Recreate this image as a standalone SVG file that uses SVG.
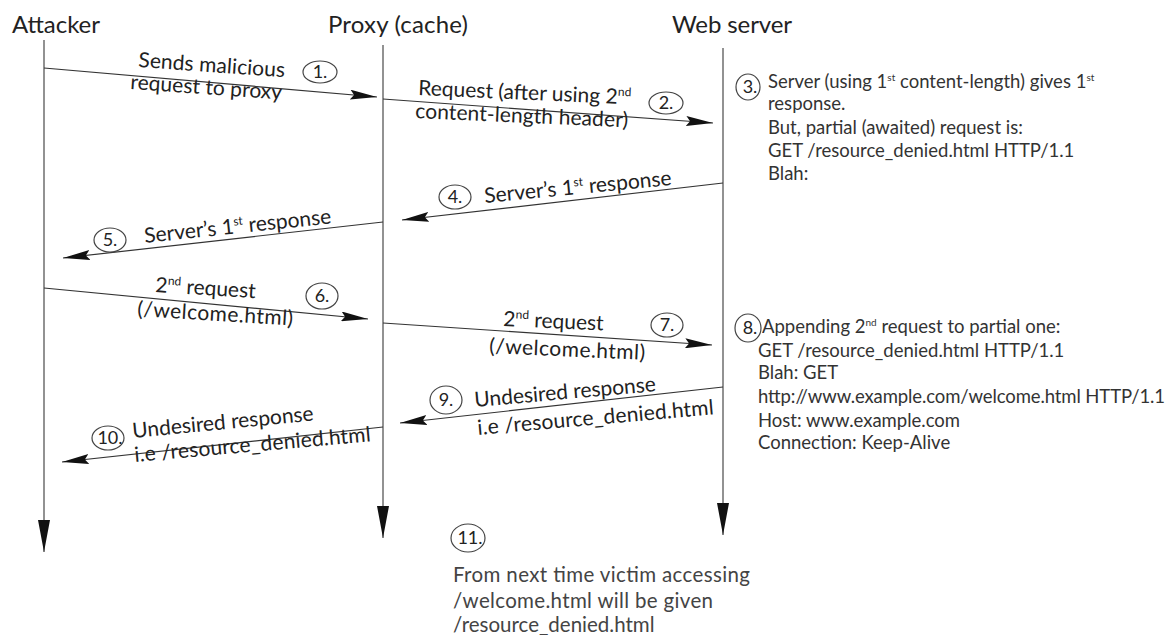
<svg xmlns="http://www.w3.org/2000/svg" width="1171" height="635" viewBox="0 0 1171 635">
  <style>
    .hdr { font-family: Lato, "Open Sans", "Liberation Sans", sans-serif; font-size: 24px; fill: #222; }
    .lbl { font-family: Lato, "Open Sans", "Liberation Sans", sans-serif; font-size: 21px; fill: #222; }
    .note { font-family: Lato, "Open Sans", "Liberation Sans", sans-serif; font-size: 18.5px; fill: #333; }
    .big { font-size: 20.5px; fill: #444; }
    .num { font-family: Lato, "Open Sans", "Liberation Sans", sans-serif; font-size: 18px; fill: #222; text-anchor: middle; }
    .life { stroke: #777; stroke-width: 1.6; fill: none; }
    .msg { stroke: #333; stroke-width: 1.2; fill: none; marker-end: url(#head); }
    .step { stroke: #444; stroke-width: 1.2; fill: none; }
  </style>
  <defs>
    <marker id="head" markerUnits="userSpaceOnUse" markerWidth="27" markerHeight="10" refX="27" refY="5" orient="auto">
      <path d="M0,0 L27,5 L0,10 L4,5 Z" fill="#111"/>
    </marker>
    <marker id="down" markerUnits="userSpaceOnUse" markerWidth="32" markerHeight="12" refX="32" refY="6" orient="auto">
      <path d="M0,0 L32,6 L0,12 Z" fill="#111"/>
    </marker>
  </defs>
  <rect width="1171" height="635" fill="#fff"/>

  <!-- participants with their lifelines -->
  <g id="attacker">
    <text class="hdr" x="12" y="33" textLength="88">Attacker</text>
    <line class="life" x1="44" y1="40" x2="44" y2="552" marker-end="url(#down)"/>
  </g>
  <g id="proxy">
    <text class="hdr" x="328" y="33" textLength="140">Proxy (cache)</text>
    <line class="life" x1="383" y1="45" x2="383" y2="538" marker-end="url(#down)"/>
  </g>
  <g id="webserver">
    <text class="hdr" x="672" y="33" textLength="120">Web server</text>
    <line class="life" x1="723" y1="48" x2="723" y2="535" marker-end="url(#down)"/>
  </g>

  <!-- messages -->
  <g id="connectors">
    <line class="msg" x1="44" y1="68" x2="377" y2="97"/>
    <line class="msg" x1="383" y1="99" x2="713" y2="123"/>
    <line class="msg" x1="723" y1="183" x2="402" y2="220"/>
    <line class="msg" x1="383" y1="222" x2="63" y2="258"/>
    <line class="msg" x1="44" y1="288" x2="368" y2="319"/>
    <line class="msg" x1="383" y1="323" x2="712" y2="345"/>
    <line class="msg" x1="723" y1="387" x2="400" y2="423"/>
    <line class="msg" x1="383" y1="427" x2="62" y2="462"/>
  </g>

  <!-- message labels -->
  <g id="step1">
    <text class="lbl" x="138" y="67" transform="rotate(4 138 67)" textLength="147">Sends malicious</text>
    <text class="lbl" x="130" y="89" transform="rotate(4 130 89)" textLength="152">request to proxy</text>
    <ellipse class="step" cx="320" cy="72" rx="17" ry="11"/>
    <text class="num" x="320" y="78">1.</text>
  </g>
  <g id="step2">
    <text class="lbl" x="418" y="95" transform="rotate(2.5 418 95)">Request (after using 2<tspan font-size="12" dy="-8">nd</tspan></text>
    <text class="lbl" x="415" y="118" transform="rotate(2.5 415 118)" textLength="213">content-length header)</text>
    <ellipse class="step" cx="666" cy="103" rx="17" ry="11"/>
    <text class="num" x="666" y="109">2.</text>
  </g>
  <g id="step3">
    <ellipse class="step" cx="748" cy="87" rx="12" ry="13"/>
    <text class="num" x="750" y="93">3.</text>
    <text class="note" x="768" y="88">Server (using 1<tspan font-size="10" dy="-7">st</tspan><tspan dy="7"> content-length) gives 1</tspan><tspan font-size="10" dy="-7">st</tspan></text>
    <text class="note" x="768" y="110">response.</text>
    <text class="note" x="768" y="134">But, partial (awaited) request is:</text>
    <text class="note" x="768" y="157">GET /resource_denied.html HTTP/1.1</text>
    <text class="note" x="768" y="180">Blah:</text>
  </g>
  <g id="step4">
    <ellipse class="step" cx="455" cy="197" rx="16" ry="12"/>
    <text class="num" x="455" y="203">4.</text>
    <text class="lbl" x="485" y="203" transform="rotate(-5.5 485 203)">Server’s 1<tspan font-size="12" dy="-8">st</tspan><tspan dy="8">  response</tspan></text>
  </g>
  <g id="step5">
    <ellipse class="step" cx="110" cy="240" rx="16" ry="12"/>
    <text class="num" x="110" y="246">5.</text>
    <text class="lbl" x="145" y="243" transform="rotate(-6 145 243)">Server’s 1<tspan font-size="12" dy="-8">st</tspan><tspan dy="8">  response</tspan></text>
  </g>
  <g id="step6">
    <text class="lbl" x="155" y="292" transform="rotate(3.5 155 292)">2<tspan font-size="12" dy="-8">nd</tspan><tspan dy="8"> request</tspan></text>
    <text class="lbl" x="137" y="316" transform="rotate(3.5 137 316)" textLength="156">(/welcome.html)</text>
    <ellipse class="step" cx="322" cy="296" rx="16" ry="13"/>
    <text class="num" x="322" y="302">6.</text>
  </g>
  <g id="step7">
    <text class="lbl" x="503" y="326" transform="rotate(2.5 503 326)">2<tspan font-size="12" dy="-8">nd</tspan><tspan dy="8"> request</tspan></text>
    <text class="lbl" x="489" y="353" transform="rotate(2.5 489 353)" textLength="156">(/welcome.html)</text>
    <ellipse class="step" cx="667" cy="325" rx="16" ry="12"/>
    <text class="num" x="667" y="331">7.</text>
  </g>
  <g id="step8">
    <ellipse class="step" cx="748" cy="328" rx="13" ry="14"/>
    <text class="num" x="750" y="334">8.</text>
    <text class="note" x="762" y="333">Appending 2<tspan font-size="10" dy="-7">nd</tspan><tspan dy="7"> request to partial one:</tspan></text>
    <text class="note" x="758" y="357">GET /resource_denied.html HTTP/1.1</text>
    <text class="note" x="758" y="379">Blah: GET</text>
    <text class="note" x="758" y="403" textLength="407">http://www.example.com/welcome.html HTTP/1.1</text>
    <text class="note" x="758" y="427">Host: www.example.com</text>
    <text class="note" x="758" y="449">Connection: Keep-Alive</text>
  </g>
  <g id="step9">
    <ellipse class="step" cx="446" cy="400" rx="16" ry="14"/>
    <text class="num" x="446" y="406">9.</text>
    <text class="lbl" x="475" y="407" transform="rotate(-5 475 407)" textLength="182">Undesired response</text>
    <text class="lbl" x="478" y="435" transform="rotate(-5 478 435)" textLength="237">i.e /resource_denied.html</text>
  </g>
  <g id="step10">
    <ellipse class="step" cx="108" cy="438" rx="16" ry="12"/>
    <text class="num" x="110" y="444">10.</text>
    <text class="lbl" x="133" y="438" transform="rotate(-5.5 133 438)" textLength="182">Undesired response</text>
    <text class="lbl" x="135" y="462" transform="rotate(-5 135 462)" textLength="237">i.e /resource_denied.html</text>
  </g>
  <g id="step11">
    <ellipse class="step" cx="468" cy="538" rx="17" ry="14"/>
    <text class="num" x="470" y="544">11.</text>
    <text class="note big" x="453" y="582" textLength="297">From next time victim accessing</text>
    <text class="note big" x="453" y="608" textLength="260">/welcome.html will be given</text>
    <text class="note big" x="453" y="632">/resource_denied.html</text>
  </g>
</svg>
